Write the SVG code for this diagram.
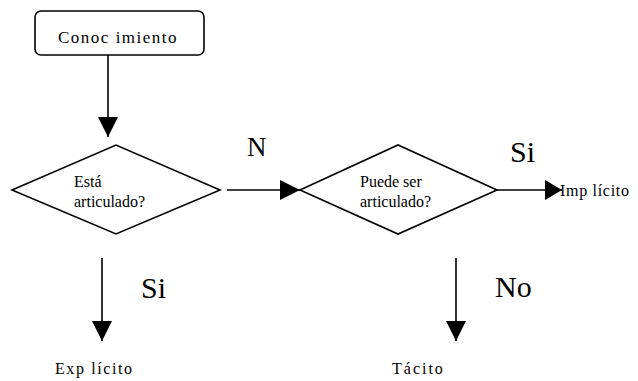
<svg xmlns="http://www.w3.org/2000/svg" width="638" height="381" viewBox="0 0 638 381">
  <style>
    .shape { fill: #ffffff; stroke: #000000; stroke-width: 1.6; }
    .wire { fill: none; stroke: #000000; stroke-width: 1.6; }
    .head { fill: #000000; stroke: none; }
    text { font-family: "Liberation Serif", "Times New Roman", serif; fill: #000000; }
    .small { font-size: 16px; }
    .spaced { font-size: 16px; letter-spacing: 1.6px; }
    .title { font-size: 17px; letter-spacing: 1.5px; }
    .big { font-size: 30px; }
  </style>
  <defs>
    <marker id="arrow" markerUnits="userSpaceOnUse" markerWidth="20" markerHeight="20" refX="20" refY="10" orient="auto" overflow="visible">
      <path class="head" d="M0,0 L20,10 L0,20 Z"/>
    </marker>
    <marker id="arrowShort" markerUnits="userSpaceOnUse" markerWidth="17" markerHeight="20" refX="17" refY="10" orient="auto" overflow="visible">
      <path class="head" d="M0,0 L17,10 L0,20 Z"/>
    </marker>
  </defs>

  <!-- connectors and their labels -->
  <g id="connectors">
    <line class="wire" x1="108" y1="55" x2="108" y2="137" marker-end="url(#arrow)"/>
    <line class="wire" x1="227" y1="190" x2="300" y2="190" marker-end="url(#arrow)"/>
    <line class="wire" x1="497" y1="190" x2="562" y2="190" marker-end="url(#arrowShort)"/>
    <line class="wire" x1="102" y1="258" x2="102" y2="341" marker-end="url(#arrow)"/>
    <line class="wire" x1="456" y1="258" x2="456" y2="341" marker-end="url(#arrow)"/>
    <text class="big" x="247" y="156" style="font-size:27px">N</text>
    <text class="big" x="510" y="162">Si</text>
    <text class="big" x="141" y="298">Si</text>
    <text class="big" x="495" y="297">No</text>
  </g>

  <!-- start node -->
  <g id="conocimiento">
    <rect class="shape" x="35" y="11" width="169" height="44" rx="6" ry="6"/>
    <text class="title" x="58" y="43">Conoc imiento</text>
  </g>

  <!-- first decision -->
  <g id="esta-articulado">
    <polygon class="shape" points="12,190 116,145 220,190 116,234"/>
    <text class="small" x="74" y="187">Está</text>
    <text class="small" x="74" y="207">articulado?</text>
  </g>

  <!-- second decision -->
  <g id="puede-ser-articulado">
    <polygon class="shape" points="300,190 398,145 497,190 398,234"/>
    <text class="small" x="360" y="187">Puede ser</text>
    <text class="small" x="360" y="207">articulado?</text>
  </g>

  <!-- outcomes -->
  <g id="implicito">
    <text class="spaced" x="560" y="196" style="letter-spacing:0.7px">Imp lícito</text>
  </g>
  <g id="explicito">
    <text class="spaced" x="55" y="374">Exp lícito</text>
  </g>
  <g id="tacito">
    <text class="spaced" x="392" y="374" style="letter-spacing:2px">Tácito</text>
  </g>
</svg>
